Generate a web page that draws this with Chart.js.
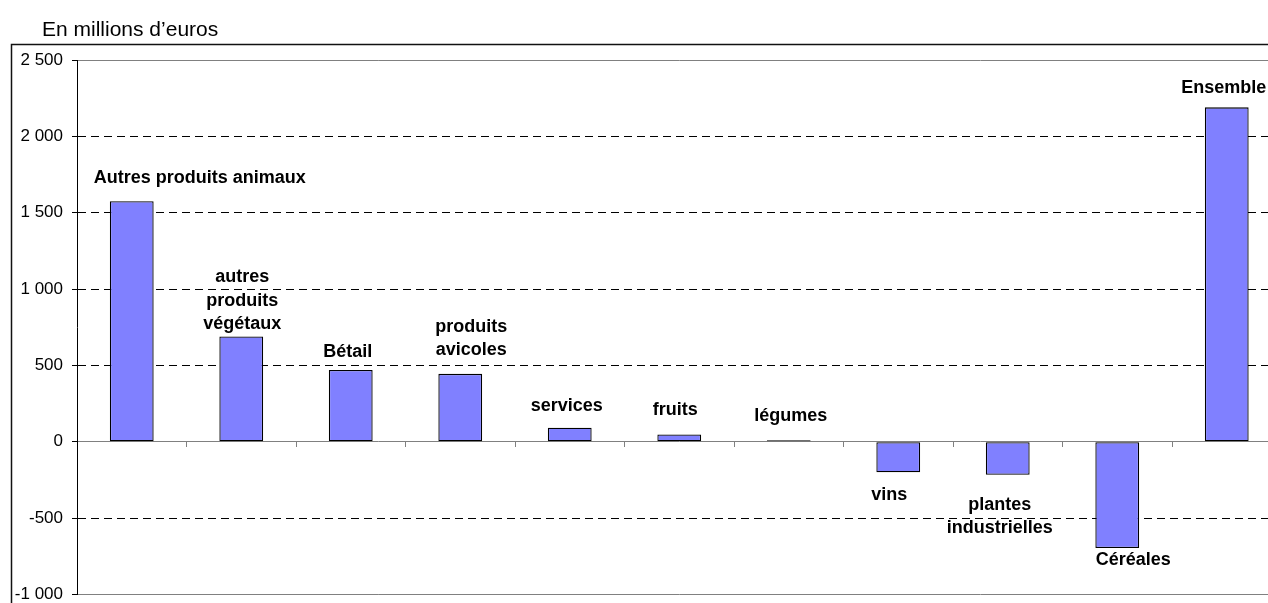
<!DOCTYPE html>
<html>
<head>
<meta charset="utf-8">
<script src="https://cdn.jsdelivr.net/npm/chart.js@4"></script>
<style>
  html, body { margin: 0; padding: 0; overflow: hidden; background: #fff; }
  #wrap { position: absolute; left: 0; top: 0; width: 1300px; height: 612px; }
</style>
</head>
<body>
<div id="wrap"><canvas id="myChart" width="1300" height="612"></canvas></div>
<script>
// categories et valeurs (millions d'euros)
var categories = ['Autres produits animaux', 'autres produits végétaux', 'Bétail', 'produits avicoles', 'services', 'fruits', 'légumes', 'vins', 'plantes industrielles', 'Céréales', 'Ensemble'];
var valeurs = [1575, 690, 470, 445, 92, 48, 10, -200, -216, -696, 2190];
var etiquettes = [['Autres produits animaux'], ['autres', 'produits', 'végétaux'], ['Bétail'], ['produits', 'avicoles'], ['services'], ['fruits'], ['légumes'], ['vins'], ['plantes', 'industrielles'], ['Céréales'], ['Ensemble']];
var yTicks = [-1000, -500, 0, 500, 1000, 1500, 2000, 2500];

// decalage des etiquettes par rapport au bout de la barre (px)
var decalX = [68, 1, -3, 11, -3, -4, 2, -9, -8, 16, -3];
var decalY = [-23, -59, -18, -47, -22, -24, -24, 23, 30, 12, -19];

function formatNb(v) {
    var s = String(Math.abs(v));
    s = s.replace(/\B(?=(\d{3})+(?!\d))/g, ' ');
    return (v < 0 ? '-' : '') + s;
}

var cadre = {
    id: 'cadre',
    beforeDraw: function(chart) {
        var ctx = chart.ctx;
        ctx.save();
        ctx.strokeStyle = '#111';
        ctx.lineWidth = 1.5;
        ctx.strokeRect(11.5, 44.5, 1400, 700);
        ctx.fillStyle = '#000';
        ctx.font = '21px "Liberation Sans", Arial, sans-serif';
        ctx.textBaseline = 'middle';
        ctx.textAlign = 'left';
        ctx.fillText('En millions d\u2019euros', 42, 30);
        ctx.restore();
    },
    afterDatasetsDraw: function(chart) {
        var ctx = chart.ctx;
        var meta = chart.getDatasetMeta(0);
        ctx.save();
        ctx.fillStyle = '#000';
        ctx.font = 'bold 18px "Liberation Sans", Arial, sans-serif';
        ctx.textAlign = 'center';
        ctx.textBaseline = 'middle';
        meta.data.forEach(function(bar, i) {
            var lignes = etiquettes[i];
            for (var k = 0; k < lignes.length; k++) {
                ctx.fillText(lignes[k], bar.x + decalX[i], bar.y + decalY[i] + k * 23.5);
            }
        });
        ctx.restore();
    }
};

var ctx = document.getElementById('myChart').getContext('2d');
var myChart = new Chart(ctx, {
    type: 'bar',
    data: {
        labels: categories,
        datasets: [{
            data: valeurs,
            backgroundColor: '#8080FF',
            borderColor: '#000',
            borderWidth: 1.3,
            borderSkipped: false,
            barPercentage: 0.4,
            categoryPercentage: 1
        }]
    },
    options: {
        responsive: false,
        animation: false,
        layout: { padding: { left: 0, right: 18.5, top: 60, bottom: 0 } },
        plugins: { legend: { display: false }, tooltip: { enabled: false }, title: { display: false } },
        scales: {
            x: {
                position: { y: 0 },
                afterFit: function(scale) { scale.height = 0; },
                ticks: { display: false },
                grid: { drawOnChartArea: false, drawTicks: true, tickLength: 5, color: '#808080', offset: true },
                border: { display: true, color: '#808080', width: 1 }
            },
            y: {
                min: -1000,
                max: 2500,
                afterFit: function(scale) { scale.width = 77; },
                afterBuildTicks: function(scale) { scale.ticks = yTicks.map(function(v) { return { value: v }; }); },
                ticks: {
                    color: '#000',
                    padding: 9,
                    font: { family: '"Liberation Sans", Arial, sans-serif', size: 17, lineHeight: 1 },
                    callback: function(v) { return formatNb(v); }
                },
                grid: {
                    tickLength: 5,
                    tickColor: '#000',
                    lineWidth: 1,
                    color: function(c) {
                        if (!c.tick) return '#000';
                        if (c.tick.value === 0) return 'rgba(0,0,0,0)';
                        if (c.tick.value === 2500 || c.tick.value === -1000) return '#808080';
                        return '#000';
                    }
                },
                border: {
                    display: true,
                    color: '#000',
                    width: 1,
                    dash: function(c) {
                        if (!c.tick) return [];
                        if (c.tick.value === 2500 || c.tick.value === -1000 || c.tick.value === 0) return [];
                        return [8, 5];
                    }
                }
            }
        }
    },
    plugins: [cadre]
});
</script>
</body>
</html>
